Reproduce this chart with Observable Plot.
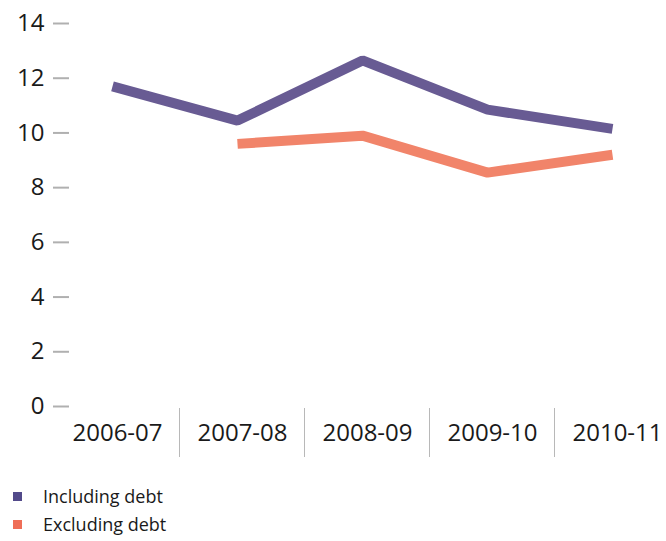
<!DOCTYPE html>
<html>
<head>
<meta charset="utf-8">
<script src="https://cdn.jsdelivr.net/npm/d3@7"></script>
<script src="https://cdn.jsdelivr.net/npm/@observablehq/plot@0.6"></script>
<style>
  html, body { margin: 0; padding: 0; background: #fff; }
  body { width: 666px; height: 541px; overflow: hidden; font-family: "Open Sans", sans-serif; }
  #legend { margin-left: 13px; }
  .row { display: flex; align-items: center; height: 28px; font-size: 18px; color: #1a1a1a; }
  .sw { width: 9px; height: 9px; margin-right: 21px; }
</style>
</head>
<body>
<div id="chart"></div>
<div id="legend"></div>
<script>
const years = ["2006-07", "2007-08", "2008-09", "2009-10", "2010-11"];
const includingDebt = [11.7, 10.45, 12.65, 10.85, 10.15];
const excludingDebt = [null, 9.6, 9.9, 8.55, 9.2];
const yTicks = [0, 2, 4, 6, 8, 10, 12, 14];
const seriesNames = ["Including debt", "Excluding debt"];
const lineColors = ["#685b93", "#f1846a"];
const legendColors = ["#524a8a", "#ef6e57"];

const rows = [];
years.forEach((y, i) => {
  rows.push({year: y, value: includingDebt[i], series: seriesNames[0]});
  if (excludingDebt[i] != null) rows.push({year: y, value: excludingDebt[i], series: seriesNames[1]});
});

const chart = Plot.plot({
  width: 666,
  height: 482,
  marginTop: 23,
  marginBottom: 76,
  marginLeft: 69,
  marginRight: 53,
  style: {fontFamily: "'Open Sans', sans-serif", fontSize: "24px", color: "#1a1a1a", background: "#fff"},
  x: {type: "point", domain: years, range: [111, 613], padding: 0, label: null},
  y: {domain: [0, 14], label: null},
  color: {domain: seriesNames, range: lineColors},
  marks: [
    Plot.axisY({ticks: yTicks, tickSize: 16, tickPadding: 9, stroke: "#b0b0b0", strokeWidth: 2, fontSize: 24, label: null, fill: "#1a1a1a"}),
    Plot.axisX({ticks: years.slice(1), tickSize: 49, dx: -58, dy: 2, tickFormat: () => "", stroke: "#b8b8b8", strokeWidth: 1, label: null}),
    Plot.axisX({ticks: years, tickSize: 0, tickPadding: 17, dx: 5, fontSize: 24, label: null, fill: "#1a1a1a"}),
    Plot.line(rows, {x: "year", y: "value", z: "series", stroke: "series", strokeWidth: 10, strokeLinecap: "butt", strokeLinejoin: "miter"})
  ]
});
document.getElementById("chart").appendChild(chart);

const legend = document.getElementById("legend");
seriesNames.forEach((n, i) => {
  const r = document.createElement("div");
  r.className = "row";
  const s = document.createElement("div");
  s.className = "sw";
  s.style.background = legendColors[i];
  const t = document.createElement("span");
  t.textContent = n;
  r.appendChild(s); r.appendChild(t);
  legend.appendChild(r);
});
</script>
</body>
</html>
